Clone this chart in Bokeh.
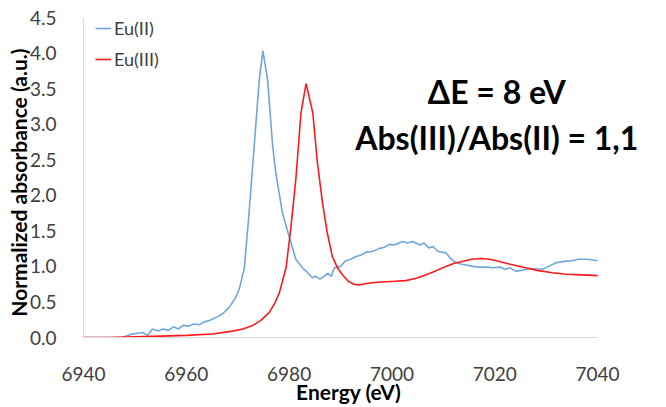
from bokeh.plotting import figure
from bokeh.models import Range1d, Label, Legend, LegendItem, NumeralTickFormatter, FixedTicker
from bokeh.embed import file_html
from bokeh.resources import INLINE

# Eu(II) spectrum
energy_eu2 = [6940, 6947.5, 6949, 6950.5, 6951.5, 6952.5, 6953.4, 6954.5, 6955.5, 6956.5,
              6957.5, 6958.5, 6959.3, 6960.5, 6961.5, 6962.5, 6963.5, 6964.5, 6965.7, 6967,
              6968.3, 6969.5, 6970.3, 6971.3, 6972.2, 6973.2, 6974.2, 6974.9, 6975.8, 6976.8,
              6977.4, 6978.7, 6980.0, 6981.3, 6982.6, 6983.5, 6984.5, 6985.2, 6986, 6986.8,
              6987.5, 6988.2, 6988.8, 6990, 6991, 6992, 6993, 6994, 6995, 6996.2,
              6997.5, 6998.5, 6999.5, 7000.5, 7002, 7003, 7004, 7004.6, 7005.5, 7006.2,
              7007.2, 7008, 7009, 7010.5, 7011.3, 7012.1, 7013.5, 7014.5, 7015.7, 7017,
              7018.5, 7019.6, 7021, 7022, 7023, 7024.1, 7025.5, 7027, 7029.3, 7030.5,
              7031.9, 7033.5, 7035, 7036.4, 7038, 7040]
abs_eu2 = [0.0, 0.0, 0.04, 0.06, 0.07, 0.03, 0.12, 0.09, 0.12, 0.10,
           0.15, 0.12, 0.17, 0.16, 0.19, 0.18, 0.22, 0.24, 0.28, 0.33,
           0.42, 0.55, 0.68, 0.98, 1.75, 2.69, 3.63, 4.03, 3.63, 2.69,
           2.32, 1.75, 1.42, 1.10, 0.98, 0.92, 0.84, 0.86, 0.82, 0.86,
           0.90, 0.86, 0.98, 1.00, 1.08, 1.10, 1.14, 1.16, 1.20, 1.21,
           1.25, 1.27, 1.31, 1.30, 1.35, 1.33, 1.35, 1.33, 1.30, 1.33,
           1.26, 1.28, 1.21, 1.19, 1.12, 1.07, 1.03, 1.02, 1.00, 0.99,
           0.99, 0.98, 0.99, 0.96, 0.98, 0.93, 0.95, 0.97, 0.96, 1.00,
           1.05, 1.07, 1.08, 1.10, 1.10, 1.08]

# Eu(III) spectrum
energy_eu3 = [6940, 6945, 6950, 6955, 6960, 6965, 6969, 6971, 6972.9, 6974.5,
              6976.1, 6977.2, 6978.1, 6978.8, 6979.4, 6980.3, 6981.3, 6982.3, 6983.3, 6984.6,
              6985.5, 6986.5, 6987.4, 6988.4, 6989.4, 6990.4, 6991.5, 6992.6, 6993.5, 6994.3,
              6996, 6998.2, 7000.5, 7002.7, 7004.5, 7005.9, 7008, 7010.5, 7012, 7013.7,
              7015.5, 7017.3, 7019, 7020.9, 7023, 7026, 7028.5, 7031.2, 7034, 7037, 7040]
abs_eu3 = [0.0, 0.0, 0.01, 0.02, 0.03, 0.05, 0.09, 0.12, 0.17, 0.24,
           0.35, 0.48, 0.63, 0.82, 0.98, 1.52, 2.22, 3.16, 3.57, 3.16,
           2.46, 1.89, 1.48, 1.14, 0.98, 0.88, 0.79, 0.75, 0.74, 0.75,
           0.77, 0.78, 0.79, 0.80, 0.83, 0.86, 0.92, 1.00, 1.04, 1.07,
           1.10, 1.11, 1.10, 1.07, 1.03, 0.98, 0.94, 0.91, 0.89, 0.88, 0.87]

series_names = ["Eu(II)", "Eu(III)"]
x_ticks = [6940, 6960, 6980, 7000, 7020, 7040]
y_ticks = [0.0, 0.5, 1.0, 1.5, 2.0, 2.5, 3.0, 3.5, 4.0, 4.5]
annotation_lines = ["\u0394E = 8 eV", "Abs(III)/Abs(II) = 1,1"]
x_title = "Energy (eV)"
y_title = "Normalized absorbance (a.u.)"

FONT = "Lato"

p = figure(frame_width=566, frame_height=320, output_backend="svg", toolbar_location=None,
           x_range=Range1d(6940, 7050.1), y_range=Range1d(0, 4.5),
           min_border_left=83, min_border_right=1, min_border_top=17, min_border_bottom=10)
p.outline_line_color = None
p.grid.visible = False
p.background_fill_color = "white"

r2 = p.line(energy_eu2, abs_eu2, line_color="#70A6DE", line_width=1.6)
r3 = p.line(energy_eu3, abs_eu3, line_color="#FF1A1A", line_width=1.6)

for ax in (p.xaxis[0], p.yaxis[0]):
    ax.axis_line_color = "#D9D9D9"
    ax.axis_line_width = 1
    ax.major_tick_line_color = None
    ax.minor_tick_line_color = None
    ax.major_label_text_font = FONT
    ax.major_label_text_font_size = "19px"
    ax.major_label_text_color = "#404040"
    ax.axis_label_text_font = FONT
    ax.axis_label_text_font_style = "bold"
    ax.axis_label_text_color = "#000000"

p.xaxis[0].axis_label_text_font_size = "21px"
p.yaxis[0].axis_label_text_font_size = "21px"
p.xaxis[0].bounds = (6940, 7040)
p.xaxis[0].ticker = FixedTicker(ticks=x_ticks)
p.yaxis[0].ticker = FixedTicker(ticks=y_ticks)
p.yaxis[0].formatter = NumeralTickFormatter(format="0.0")
p.xaxis[0].formatter = NumeralTickFormatter(format="0")
# no-break spaces only nudge the centred titles to the reference's position
p.xaxis[0].axis_label = x_title + "\u00a0" * 7
p.yaxis[0].axis_label = y_title + "\u00a0" * 2
p.xaxis[0].major_label_standoff = 23
p.yaxis[0].major_label_standoff = 21
p.xaxis[0].axis_label_standoff = -5
p.yaxis[0].axis_label_standoff = -4

legend = Legend(items=[LegendItem(label=series_names[0], renderers=[r2]),
                       LegendItem(label=series_names[1], renderers=[r3])],
                location=(12, 267), orientation="vertical")
legend.margin = 0
legend.padding = 0
legend.spacing = 9
legend.glyph_width = 16
legend.glyph_height = 18
legend.label_height = 18
legend.label_standoff = 3
legend.border_line_color = None
legend.background_fill_alpha = 0
legend.label_text_font = FONT
legend.label_text_font_size = "18px"
legend.label_text_color = "#404040"
p.add_layout(legend, "center")

ann_y = [3.46, 2.81]
for txt, yy in zip(annotation_lines, ann_y):
    p.add_layout(Label(x=7020.4, y=yy, text=txt, text_align="center", text_baseline="middle",
                       text_font=FONT, text_font_style="bold", text_font_size="32px",
                       text_color="black"))

open("out.html", "w").write(file_html(p, INLINE))
